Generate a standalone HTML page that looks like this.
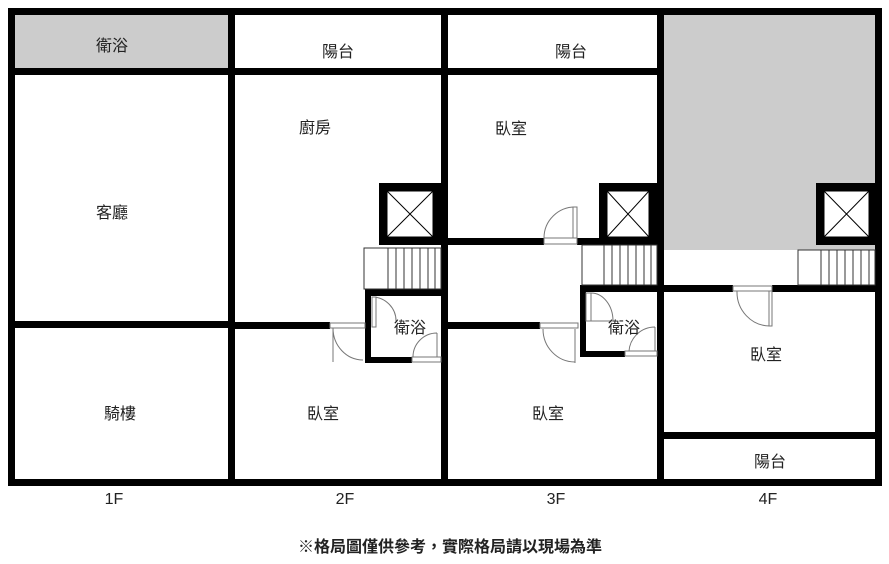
<!DOCTYPE html>
<html><head><meta charset="utf-8"><style>
html,body{margin:0;padding:0;background:#fff;}
svg{display:block;}
text{font-family:"Liberation Sans","Noto Sans CJK TC",sans-serif;font-size:16px;fill:#222;}
</style></head><body>
<svg width="889" height="564" viewBox="0 0 889 564" xmlns="http://www.w3.org/2000/svg">
<rect x="15" y="15" width="213" height="53" fill="#cccccc"/>
<rect x="664" y="15" width="211" height="235" fill="#cccccc"/>
<g fill="#000">
<rect x="8" y="8" width="873" height="7"/>
<rect x="8" y="479" width="873" height="7"/>
<rect x="8" y="8" width="7" height="478"/>
<rect x="875" y="8" width="7" height="478"/>
<rect x="228" y="8" width="7" height="478"/>
<rect x="441" y="8" width="7" height="478"/>
<rect x="657" y="8" width="7" height="478"/>
<rect x="8" y="68" width="656" height="7"/>
<rect x="8" y="321" width="227" height="7"/>
<rect x="235" y="322" width="95" height="7"/>
<rect x="379" y="183" width="62" height="62"/>
<rect x="365" y="289" width="76" height="7"/>
<rect x="365" y="289" width="6" height="74"/>
<rect x="365" y="357" width="47" height="6"/>
<rect x="448" y="238" width="96" height="7"/>
<rect x="577" y="238" width="80" height="7"/>
<rect x="599" y="183" width="58" height="62"/>
<rect x="580" y="285" width="77" height="7"/>
<rect x="580" y="285" width="6" height="72"/>
<rect x="580" y="351" width="45" height="6"/>
<rect x="448" y="322" width="92" height="7"/>
<rect x="816" y="183" width="59" height="62"/>
<rect x="664" y="285" width="69" height="7"/>
<rect x="772" y="285" width="103" height="7"/>
<rect x="664" y="432" width="211" height="7"/>
</g>
<g fill="#fff" stroke="#000" stroke-width="1">
<rect x="387" y="191" width="46" height="46"/>
<rect x="607" y="191" width="42" height="46"/>
<rect x="824" y="191" width="45" height="46"/>
</g>
<g stroke="#000" stroke-width="1" fill="none">
<path d="M387 191L433 237M433 191L387 237"/>
<path d="M607 191L649 237M649 191L607 237"/>
<path d="M824 191L869 237M869 191L824 237"/>
</g>
<g stroke="#333" stroke-width="1" fill="#fff">
<rect x="364" y="248" width="77" height="41"/>
<rect x="582" y="245" width="75" height="40"/>
<rect x="798" y="250" width="77" height="35"/>
</g>
<g stroke="#333" stroke-width="1">
<path d="M388 248V289M396 248V289M404 248V289M412 248V289M420 248V289M428 248V289M435 248V289"/>
<path d="M604 245V285M612 245V285M620 245V285M628 245V285M636 245V285M644 245V285M651 245V285"/>
<path d="M821 250V285M829 250V285M837 250V285M845 250V285M853 250V285M861 250V285M869 250V285"/>
</g>
<g stroke="#777" stroke-width="1" fill="none">
<rect x="330" y="323" width="35" height="5" fill="#fff"/>
<path d="M333 328V362M333 328A30 32 0 0 0 363 360"/>
<path d="M372 297V327M372 297A24 24 0 0 1 396 322"/>
<rect x="372" y="297" width="4" height="30" fill="#fff"/>
<rect x="412" y="357" width="29" height="5" fill="#fff"/>
<path d="M437 333V357M413 357A24 24 0 0 1 437 333"/>
<rect x="544" y="238" width="33" height="6" fill="#fff"/>
<path d="M576 207V238M544 238A31 31 0 0 1 576 207"/>
<rect x="573" y="207" width="4" height="31" fill="#fff"/>
<rect x="540" y="323" width="38" height="5" fill="#fff"/>
<path d="M575 329V363M543 329A32 33 0 0 0 575 362"/>
<rect x="586" y="293" width="5" height="28" fill="#fff"/>
<path d="M591 293A22 28 0 0 1 613 321 M591 321H613"/>
<rect x="625" y="351" width="32" height="5" fill="#fff"/>
<path d="M655 327V351M629 351A26 26 0 0 1 655 327"/>
<rect x="733" y="286" width="39" height="5" fill="#fff"/>
<path d="M770 291V326M737 291A33 34 0 0 0 770 326"/>
<rect x="769" y="291" width="3" height="35" fill="#fff"/>
</g>
<g text-anchor="middle">
<text x="112" y="51">衛浴</text>
<text x="338" y="57">陽台</text>
<text x="571" y="57">陽台</text>
<text x="315" y="133">廚房</text>
<text x="511" y="134">臥室</text>
<text x="112" y="218">客廳</text>
<text x="410" y="333">衛浴</text>
<text x="624" y="333">衛浴</text>
<text x="766" y="360">臥室</text>
<text x="120" y="419">騎樓</text>
<text x="323" y="419">臥室</text>
<text x="548" y="419">臥室</text>
<text x="770" y="467">陽台</text>
<text x="114" y="504">1F</text>
<text x="345" y="504">2F</text>
<text x="556" y="504">3F</text>
<text x="768" y="504">4F</text>
<text x="450" y="552" style="font-size:16px;font-weight:bold">※格局圖僅供參考，實際格局請以現場為準</text>
</g>
</svg>
</body></html>
